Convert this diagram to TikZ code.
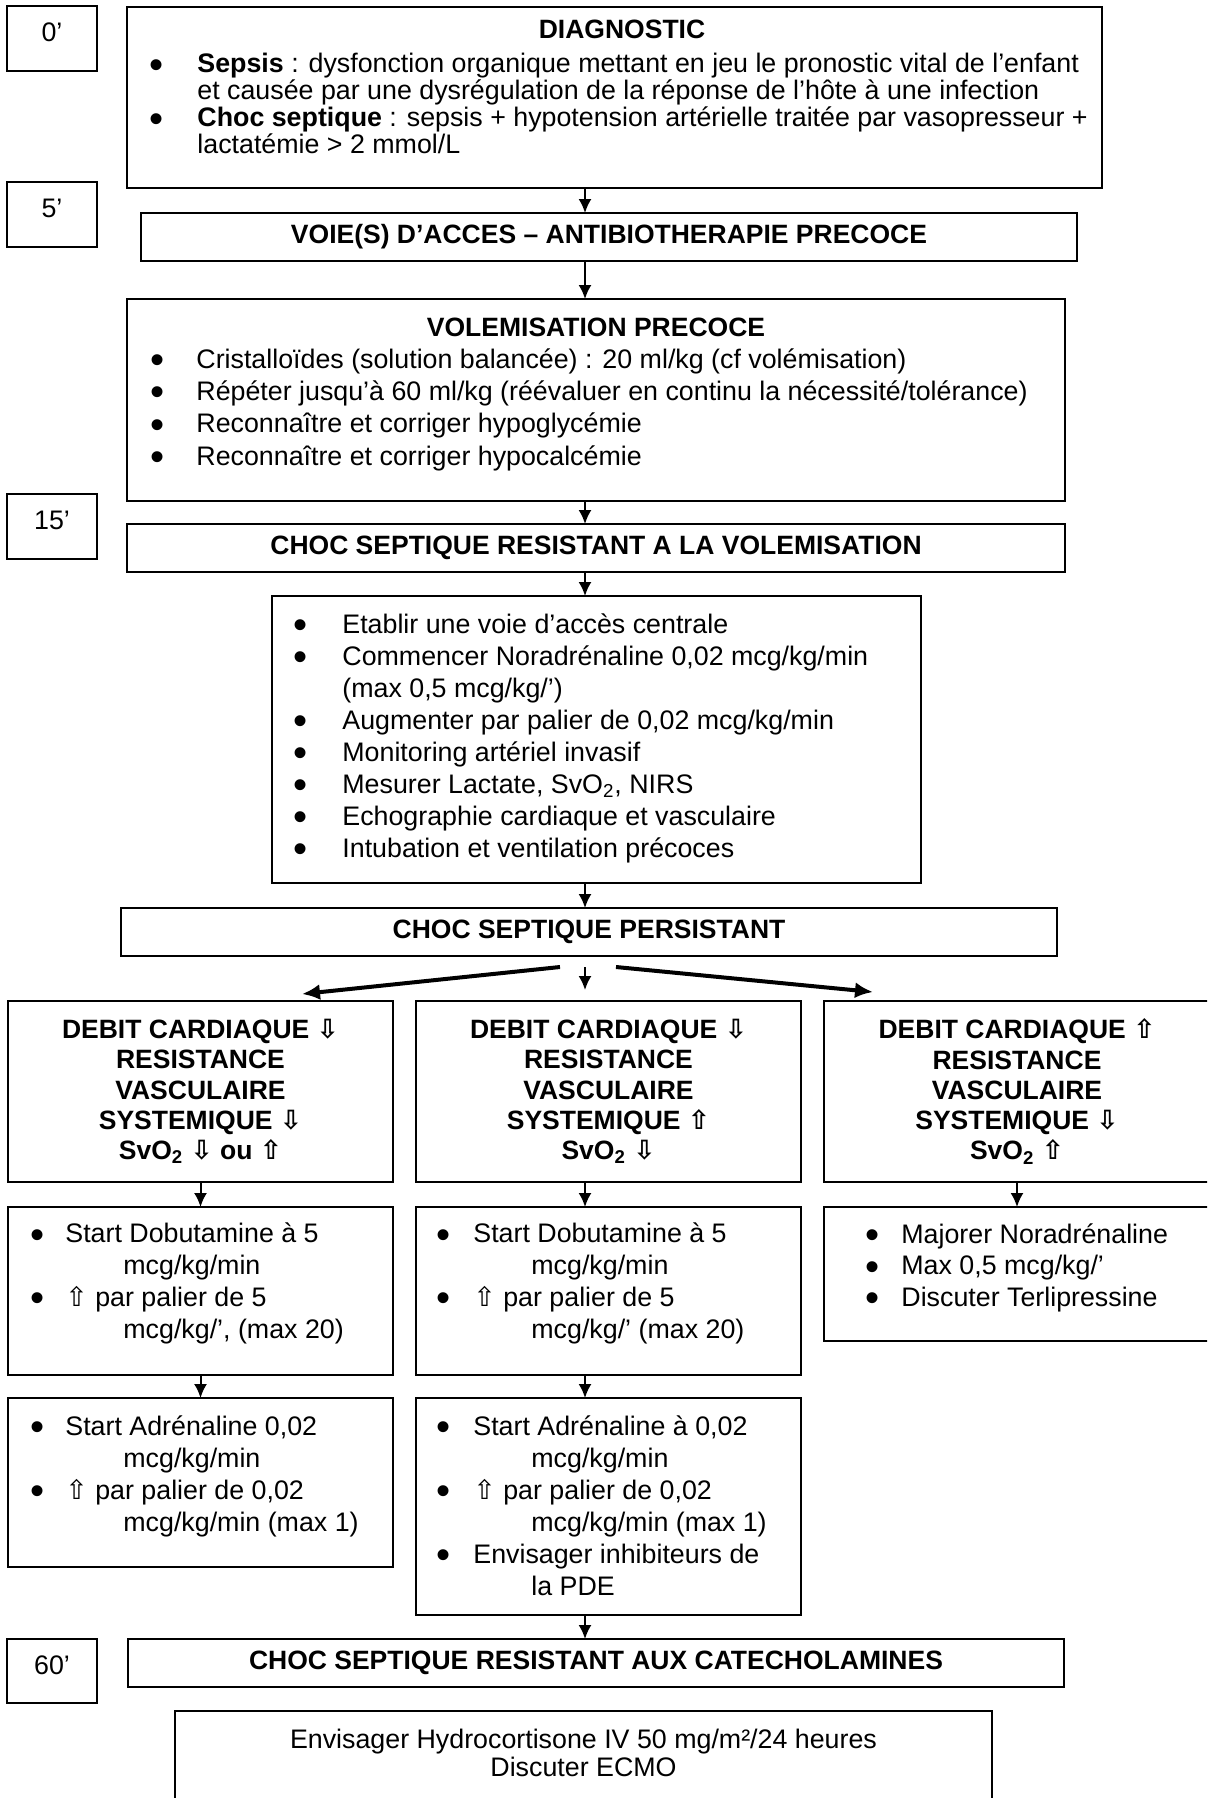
\documentclass[tikz,border=0pt]{standalone}
\usepackage{fontspec}
\setmainfont{Liberation Sans}
\newfontfamily\symb{DejaVu Sans}
\usetikzlibrary{arrows.meta}

\newcommand{\hausse}{{\symb ⇧}}
\newcommand{\baisse}{{\symb ⇩}}
\newcommand{\puce}[1]{\makebox[#1][l]{\raisebox{-.2em}{\scalebox{1.5}{\textbullet}}}}

\tikzset{
  box/.style={draw,line width=1.1pt,inner sep=0pt,outer sep=0pt},
  timebox/.style={box,minimum width=45pt,minimum height=32.5pt,text depth=6pt,
    font=\fontsize{13.4}{16}\selectfont},
  titre/.style={inner sep=0pt,font=\fontsize{13.25}{15.1}\selectfont\bfseries,align=center},
  txt/.style={inner sep=0pt,anchor=base west,align=left,font=\fontsize{13.4}{16}\selectfont},
  fleche/.style={-{Latex[length=7pt,width=6.5pt]},line width=1pt},
  grosse/.style={-{Latex[length=9pt,width=8pt]},line width=2pt},
}

\begin{document}
\begin{tikzpicture}[x=0.5pt,y=-0.5pt]
\useasboundingbox (0,0) rectangle (1207,1798);
\clip (0,0) rectangle (1207,1798);
\coordinate (axis) at (585,0);

% reperes de temps
\node[timebox] (t0) at (52,38.5) {0’};
\node[timebox] (t5) at (52,214.5) {5’};
\node[timebox] (t15) at (52,526.5) {15’};
\node[timebox,minimum height=32pt] (t60) at (52,1671) {60’};

% diagnostic (texte ancre sur la derniere ligne)
\node[box,minimum width=487.5pt,minimum height=90.5pt] (diag) at (614.5,97.5) {};
\node[titre] (diag-h) at (622,29) {DIAGNOSTIC};
\node[txt,font=\fontsize{13.4}{13.5}\selectfont] (diag-t) at (149,154)
  {\puce{24pt}\textbf{Sepsis} : dysfonction organique mettant en jeu le pronostic vital de l’enfant\\
   \hspace*{24pt}et causée par une dysrégulation de la réponse de l’hôte à une infection\\
   \puce{24pt}\textbf{Choc septique} : sepsis + hypotension artérielle traitée par vasopresseur +\\
   \hspace*{24pt}lactatémie > 2 mmol/L};

\node[box,titre,minimum width=468pt,minimum height=24pt] (voie) at (609,237)
  {VOIE(S) D’ACCES – ANTIBIOTHERAPIE PRECOCE};

% volemisation
\node[box,minimum width=469pt,minimum height=101pt] (vol) at (596,400) {};
\node[titre] (vol-h) at (596,327) {VOLEMISATION PRECOCE};
\node[txt,font=\fontsize{13.4}{16.15}\selectfont] (vol-t) at (150,465)
  {\puce{23pt}Cristalloïdes (solution balancée) : 20 ml/kg (cf volémisation)\\
   \puce{23pt}Répéter jusqu’à 60 ml/kg (réévaluer en continu la nécessité/tolérance)\\
   \puce{23pt}Reconnaître et corriger hypoglycémie\\
   \puce{23pt}Reconnaître et corriger hypocalcémie};

\node[box,titre,minimum width=469pt,minimum height=24pt] (res) at (596,548)
  {CHOC SEPTIQUE RESISTANT A LA VOLEMISATION};

% noradrenaline
\node[box,minimum width=324.5pt,minimum height=143.5pt] (cen) at (596.5,739.5) {};
\node[txt] (cen-t) at (293.5,857)
  {\puce{24.25pt}Etablir une voie d’accès centrale\\
   \puce{24.25pt}Commencer Noradrénaline 0,02 mcg/kg/min\\
   \hspace*{24.25pt}(max 0,5 mcg/kg/’)\\
   \puce{24.25pt}Augmenter par palier de 0,02 mcg/kg/min\\
   \puce{24.25pt}Monitoring artériel invasif\\
   \puce{24.25pt}Mesurer Lactate, SvO\textsubscript{2}, NIRS\\
   \puce{24.25pt}Echographie cardiaque et vasculaire\\
   \puce{24.25pt}Intubation et ventilation précoces};

\node[box,titre,minimum width=468pt,minimum height=24pt] (pers) at (589,932)
  {CHOC SEPTIQUE PERSISTANT};

% profils hemodynamiques
\node[box,titre,minimum width=192.5pt,minimum height=90.5pt] (d1) at (200.5,1091.5)
  {DEBIT CARDIAQUE \baisse\\RESISTANCE\\VASCULAIRE\\SYSTEMIQUE \baisse\\SvO\textsubscript{2} \baisse{} ou \hausse};
\node[box,titre,minimum width=192.5pt,minimum height=90.5pt] (d2) at (608.5,1091.5)
  {DEBIT CARDIAQUE \baisse\\RESISTANCE\\VASCULAIRE\\SYSTEMIQUE \hausse\\SvO\textsubscript{2} \baisse};
\node[box,titre,minimum width=193pt,minimum height=90.5pt] (d3) at (1017,1091.5)
  {DEBIT CARDIAQUE \hausse\\RESISTANCE\\VASCULAIRE\\SYSTEMIQUE \baisse\\SvO\textsubscript{2} \hausse};

% traitements
\node[box,minimum width=192.5pt,minimum height=84pt] (s1) at (200.5,1291) {};
\node[txt,font=\fontsize{13.4}{15.85}\selectfont] (s1-t) at (30.5,1338)
  {\puce{17.25pt}Start Dobutamine à 5\\
   \hspace*{46.25pt}mcg/kg/min\\
   \puce{17.25pt}\hausse{} par palier de 5\\
   \hspace*{46.25pt}mcg/kg/’, (max 20)};
\node[box,minimum width=192.5pt,minimum height=84pt] (s2) at (608.5,1291) {};
\node[txt,font=\fontsize{13.4}{15.85}\selectfont] (s2-t) at (436.5,1338)
  {\puce{18.25pt}Start Dobutamine à 5\\
   \hspace*{47.25pt}mcg/kg/min\\
   \puce{18.25pt}\hausse{} par palier de 5\\
   \hspace*{47.25pt}mcg/kg/’ (max 20)};
\node[box,minimum width=193pt,minimum height=67pt] (s3) at (1017,1274) {};
\node[txt,font=\fontsize{13.4}{15.85}\selectfont] (s3-t) at (865.5,1306.5)
  {\puce{17.75pt}Majorer Noradrénaline\\
   \puce{17.75pt}Max 0,5 mcg/kg/’\\
   \puce{17.75pt}Discuter Terlipressine};

\node[box,minimum width=192.5pt,minimum height=84.5pt] (a1) at (200.5,1482.5) {};
\node[txt] (a1-t) at (30.5,1531)
  {\puce{17.25pt}Start Adrénaline 0,02\\
   \hspace*{46.25pt}mcg/kg/min\\
   \puce{17.25pt}\hausse{} par palier de 0,02\\
   \hspace*{46.25pt}mcg/kg/min (max 1)};
\node[box,minimum width=192.5pt,minimum height=108.5pt] (a2) at (608.5,1506.5) {};
\node[txt] (a2-t) at (436.5,1595)
  {\puce{18.25pt}Start Adrénaline à 0,02\\
   \hspace*{47.25pt}mcg/kg/min\\
   \puce{18.25pt}\hausse{} par palier de 0,02\\
   \hspace*{47.25pt}mcg/kg/min (max 1)\\
   \puce{18.25pt}Envisager inhibiteurs de\\
   \hspace*{47.25pt}la PDE};

\node[box,titre,minimum width=468pt,minimum height=24pt] (cat) at (596,1663)
  {CHOC SEPTIQUE RESISTANT AUX CATECHOLAMINES};

\node[box,minimum width=408.5pt,minimum height=54.5pt] (fin) at (583.5,1765.5) {};
\node[txt,anchor=base,align=center,font=\fontsize{13.4}{14}\selectfont] (fin-t) at (583.5,1776)
  {Envisager Hydrocortisone IV 50 mg/m²/24 heures\\Discuter ECMO};

% fleches
\draw[fleche] (diag.south -| axis) -- (voie.north -| axis);
\draw[fleche] (voie.south -| axis) -- (vol.north -| axis);
\draw[fleche] (vol.south -| axis) -- (res.north -| axis);
\draw[fleche] (res.south -| axis) -- (cen.north -| axis);
\draw[fleche] (cen.south -| axis) -- (pers.north -| axis);

\coordinate (fork-l) at (560,967);
\coordinate (fork-m) at (585,967);
\coordinate (fork-r) at (616,967);
\coordinate (tip-l) at (302,994);
\coordinate (tip-m) at (585,990);
\coordinate (tip-r) at (873,992);
\draw[grosse] (fork-l) -- (tip-l);
\draw[fleche] (fork-m) -- (tip-m);
\draw[grosse] (fork-r) -- (tip-r);

\draw[fleche] (d1.south) -- (s1.north);
\draw[fleche] (d2.south -| axis) -- (s2.north -| axis);
\draw[fleche] (d3.south) -- (s3.north);
\draw[fleche] (s1.south) -- (a1.north);
\draw[fleche] (s2.south -| axis) -- (a2.north -| axis);
\draw[fleche] (a2.south -| axis) -- (cat.north -| axis);

\end{tikzpicture}
\end{document}
